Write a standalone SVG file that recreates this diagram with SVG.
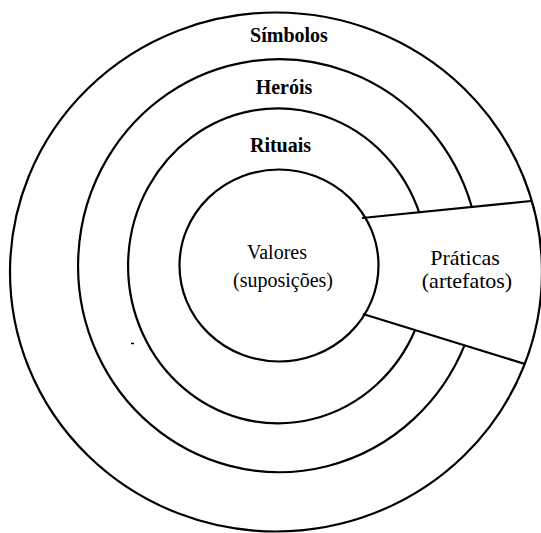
<svg xmlns="http://www.w3.org/2000/svg" width="541" height="533" viewBox="0 0 541 533">
<style>
.ring{fill:none;stroke:#000;stroke-width:2.2}
text{font-family:'Liberation Serif','DejaVu Serif',serif;font-size:20px;fill:#000;text-anchor:middle}
.b{font-weight:bold}
.big{font-size:22px}
</style>
<rect width="541" height="533" fill="#fff"/>
<g id="simbolos">
<ellipse class="ring" cx="276" cy="272" rx="266" ry="259.5"/>
<text class="b" x="289" y="42" font-family="Liberation Serif, serif">Símbolos</text>
</g>
<g id="herois">
<path class="ring" d="M471.8 207 A201 206.5 0 1 0 464.5 345.4"/>
<text class="b" x="284" y="94" font-family="Liberation Serif, serif">Heróis</text>
</g>
<g id="rituais">
<path class="ring" d="M419.4 213 A150 157.5 0 1 0 415.3 329.5"/>
<text class="b" x="280.5" y="152" font-family="Liberation Serif, serif">Rituais</text>
</g>
<g id="valores">
<ellipse class="ring" cx="279" cy="265.5" rx="99.5" ry="96"/>
<text x="277" y="259" font-family="Liberation Serif, serif">Valores</text>
<text x="283" y="287" font-family="Liberation Serif, serif">(suposições)</text>
</g>
<g id="praticas">
<text class="big" x="465" y="265" font-family="Liberation Serif, serif">Práticas</text>
<text class="big" x="467" y="288" font-family="Liberation Serif, serif">(artefatos)</text>
</g>
<g id="connectors">
<line class="ring" x1="362" y1="218" x2="531" y2="201"/>
<line class="ring" x1="363" y1="314" x2="525" y2="364"/>
</g>
<path d="M131 343.5 H134" stroke="#000" stroke-width="1.5"/>
</svg>
